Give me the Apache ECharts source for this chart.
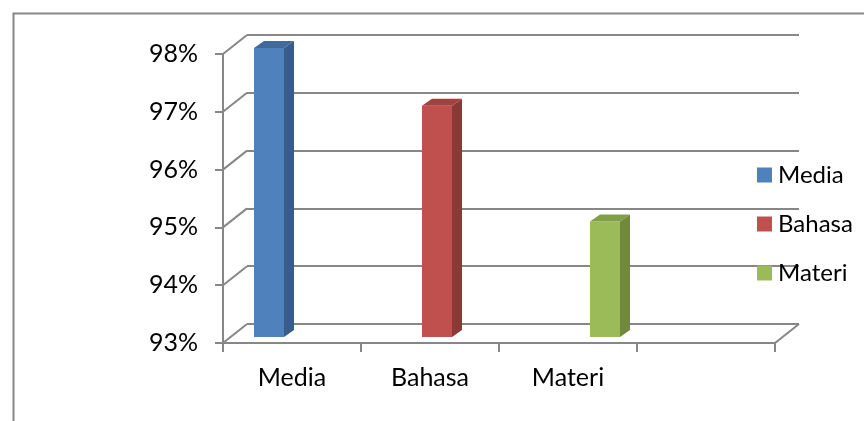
<!DOCTYPE html>
<html>
<head>
<meta charset="utf-8">
<script src="https://cdn.jsdelivr.net/npm/echarts@6/dist/echarts.min.js"></script>
<style>html,body{margin:0;padding:0;background:#fff;}#c{width:864px;height:421px;}</style>
</head>
<body>
<div id="c"></div>
<script>
// ---- data ----
var categories = ['Media', 'Bahasa', 'Materi', ''];
var seriesNames = ['Media', 'Bahasa', 'Materi'];
var seriesValues = [0.98, 0.97, 0.95];
var yTicks = [0.93, 0.94, 0.95, 0.96, 0.97, 0.98];

// ---- styles ----
var FONT = 'Lato';
var GRAY = '#878787';
var frontColors = ['#4F81BD', '#C0504D', '#9BBB59'];
var sideColors = ['#385D8A', '#8C3836', '#71893F'];
var topColors = ['#42699C', '#A2423F', '#809F47'];
var DX = 24, DY = -19;          // wall depth offset
var BOX = 7, BOY = -6;          // bar front-plane offset
var BDX = 10, BDY = -7;         // bar depth
var BAR_FRAC = 30 / 138;

var chart = echarts.init(document.getElementById('c'), null, {renderer: 'canvas'});

function barRender(s) {
  return function (params, api) {
    var cat = api.value(0), val = api.value(1);
    var top = api.coord([cat, val]);
    var base = api.coord([cat, yTicks[0]]);
    var bw = api.size([1, 0])[0];
    var w = bw * BAR_FRAC;
    var cx = top[0] + (s - 1) * w;
    var x0 = cx - w / 2 + BOX, x1 = x0 + w;
    var yT = top[1] + BOY, yB = base[1] + BOY;
    return {
      type: 'group',
      children: [
        {type: 'rect', shape: {x: x0, y: yT, width: w, height: yB - yT}, style: {fill: frontColors[s]}},
        {type: 'polygon', shape: {points: [[x1, yT], [x1 + BDX, yT + BDY], [x1 + BDX, yB + BDY], [x1, yB]]}, style: {fill: sideColors[s]}},
        {type: 'polygon', shape: {points: [[x0, yT], [x0 + BDX, yT + BDY], [x1 + BDX, yT + BDY], [x1, yT]]}, style: {fill: topColors[s]}}
      ]
    };
  };
}

var series = [];
// side-wall diagonals and floor right edge
series.push({
  type: 'custom',
  xAxisIndex: 0, yAxisIndex: 0,
  silent: true,
  data: yTicks.map(function (v) { return [0, v]; }),
  renderItem: function (params, api) {
    var v = api.value(1);
    var p = api.coord([0, v]);
    var bw = api.size([1, 0])[0];
    var xl = p[0] - bw / 2;
    var children = [{type: 'line', shape: {x1: xl, y1: p[1], x2: xl + DX, y2: p[1] + DY}, style: {stroke: GRAY, lineWidth: 2}}];
    if (params.dataIndex === 0) {
      var pr = api.coord([categories.length - 1, v]);
      var xr = pr[0] + bw / 2;
      children.push({type: 'line', shape: {x1: xr, y1: pr[1], x2: xr + DX, y2: pr[1] + DY}, style: {stroke: GRAY, lineWidth: 2}});
    }
    return {type: 'group', children: children};
  },
  z: 1
});
for (var s = 0; s < seriesNames.length; s++) {
  var d = [];
  d.push([s, seriesValues[s]]);
  series.push({
    type: 'custom',
    name: seriesNames[s],
    xAxisIndex: 0, yAxisIndex: 0,
    itemStyle: {color: frontColors[s]},
    data: d,
    renderItem: barRender(s),
    z: 3
  });
}

chart.setOption({
  animation: false,
  textStyle: {fontFamily: FONT},
  graphic: [{
    type: 'rect', left: 11, top: 11, silent: true,
    shape: {width: 900, height: 500},
    style: {fill: 'none', stroke: GRAY, lineWidth: 2}, z: -10
  }],
  grid: [
    {left: 223, right: 89, top: 54, bottom: 78},
    {left: 223 + DX, right: 89 - DX, top: 54 + DY, bottom: 78 - DY}
  ],
  xAxis: [
    {
      type: 'category', gridIndex: 0, data: categories, boundaryGap: true,
      axisLine: {lineStyle: {color: GRAY, width: 2}},
      axisTick: {show: true, length: 9, lineStyle: {color: GRAY, width: 2}},
      axisLabel: {color: '#000', fontSize: 25, fontFamily: FONT, margin: 22},
      splitLine: {show: false}
    },
    {
      type: 'category', gridIndex: 1, data: categories, show: false
    }
  ],
  yAxis: [
    {
      type: 'value', gridIndex: 0, min: 0.93, max: 0.98, interval: 0.01,
      axisLine: {show: true, lineStyle: {color: GRAY, width: 2}},
      axisTick: {show: true, length: 8, lineStyle: {color: GRAY, width: 2}},
      axisLabel: {
        color: '#000', fontSize: 25, fontFamily: FONT, margin: 25,
        formatter: function (v) { return Math.round(v * 100) + '%'; }
      },
      splitLine: {show: false}
    },
    {
      type: 'value', gridIndex: 1, min: 0.93, max: 0.98, interval: 0.01,
      axisLine: {show: false}, axisTick: {show: false}, axisLabel: {show: false},
      splitLine: {show: true, lineStyle: {color: GRAY, width: 2}}
    }
  ],
  legend: {
    orient: 'vertical', left: 752, top: 157,
    itemWidth: 15, itemHeight: 15, itemGap: 23, icon: 'rect',
    data: seriesNames,
    textStyle: {color: '#000', fontSize: 24, fontFamily: FONT, lineHeight: 26, padding: [0, 0, 0, 1]}
  },
  series: series
});
</script>
</body>
</html>
